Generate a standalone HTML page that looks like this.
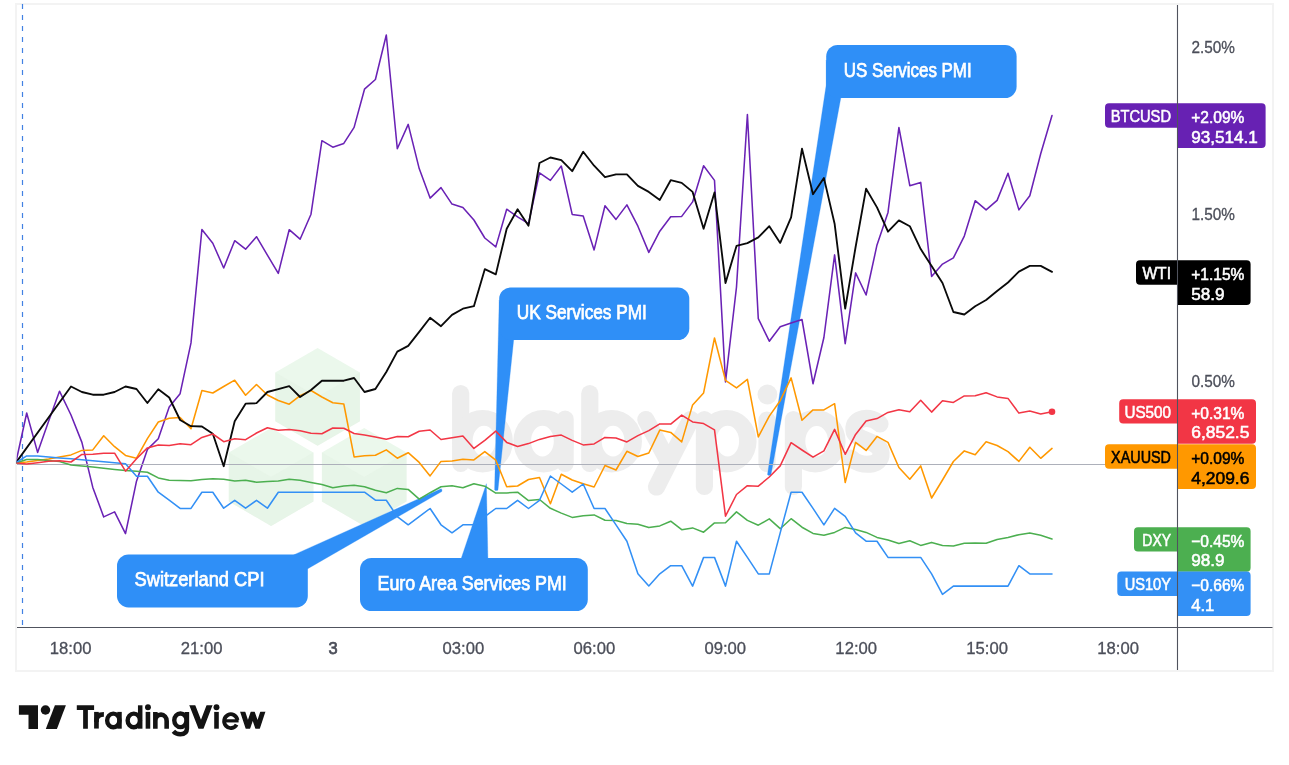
<!DOCTYPE html><html><head><meta charset="utf-8"><title>chart</title><style>html,body{margin:0;padding:0;background:#fff;}body{width:1289px;height:765px;overflow:hidden;font-family:"Liberation Sans",sans-serif;}svg{display:block;will-change:transform}</style></head><body>
<svg width="1289" height="765" viewBox="0 0 1289 765">
<rect x="0" y="0" width="1289" height="765" fill="#ffffff"/>
<rect x="16" y="4" width="1257" height="667" fill="#ffffff" stroke="#f3f3f3" stroke-width="2"/>
<polygon points="317.6,347.9 359.9,372.4 359.9,421.2 317.6,445.7 275.3,421.2 275.3,372.4" fill="#ebf8ec"/>
<polygon points="275.3,372.4 317.6,396.8 359.9,372.4 359.9,421.2 317.6,445.7 275.3,421.2" fill="#e3f1e3" opacity="0.5"/>
<polygon points="271.1,428.1 313.4,452.6 313.4,501.4 271.1,525.9 228.8,501.4 228.8,452.6" fill="#ebf8ec"/>
<polygon points="228.8,452.6 271.1,477.0 313.4,452.6 313.4,501.4 271.1,525.9 228.8,501.4" fill="#e3f1e3" opacity="0.5"/>
<polygon points="364.2,428.1 406.5,452.6 406.5,501.4 364.2,525.9 321.9,501.4 321.9,452.6" fill="#ebf8ec"/>
<polygon points="321.9,452.6 364.2,477.0 406.5,452.6 406.5,501.4 364.2,525.9 321.9,501.4" fill="#e3f1e3" opacity="0.5"/>
<g fill="none" stroke="#ededed" stroke-width="17.2" stroke-linecap="round" stroke-linejoin="round">
<path d="M460.7 393.5V463.5"/>
<path d="M565.1 419V463.5"/>
<path d="M589.8 393.5V463.5"/>
<path d="M645.8 419.5L668.5 462M690.8 419.5L656.5 487"/>
<path d="M704.4 419.5V486.5"/>
<path d="M767 420V463.5"/>
<path d="M793.4 419.5V486.5"/>
<path d="M880 424 C 871 415, 853 417, 854 430 C 855 442, 880 439, 881 453 C 882 467, 860 467, 851 458"/>
</g>
<path d="M452.3 441.2A30.3 31.2 0 1 0 512.9 441.2A30.3 31.2 0 1 0 452.3 441.2ZM472.6 441.2A11.4 15.3 0 1 0 495.4 441.2A11.4 15.3 0 1 0 472.6 441.2Z" fill="#ededed" fill-rule="evenodd"/>
<path d="M513.3000000000001 441.2A30.3 31.2 0 1 0 573.9 441.2A30.3 31.2 0 1 0 513.3000000000001 441.2ZM531.0 441.2A11.4 15.3 0 1 0 553.8 441.2A11.4 15.3 0 1 0 531.0 441.2Z" fill="#ededed" fill-rule="evenodd"/>
<path d="M581.4000000000001 441.2A30.3 31.2 0 1 0 642.0 441.2A30.3 31.2 0 1 0 581.4000000000001 441.2ZM601.7 441.2A11.4 15.3 0 1 0 624.5 441.2A11.4 15.3 0 1 0 601.7 441.2Z" fill="#ededed" fill-rule="evenodd"/>
<path d="M696.0 441.2A30.3 31.2 0 1 0 756.5999999999999 441.2A30.3 31.2 0 1 0 696.0 441.2ZM716.3000000000001 441.2A11.4 15.3 0 1 0 739.1 441.2A11.4 15.3 0 1 0 716.3000000000001 441.2Z" fill="#ededed" fill-rule="evenodd"/>
<path d="M785.0 441.2A30.3 31.2 0 1 0 845.5999999999999 441.2A30.3 31.2 0 1 0 785.0 441.2ZM805.3000000000001 441.2A11.4 15.3 0 1 0 828.1 441.2A11.4 15.3 0 1 0 805.3000000000001 441.2Z" fill="#ededed" fill-rule="evenodd"/>
<circle cx="767.4" cy="394.5" r="9.9" fill="#ededed"/>
<polygon points="826.2,60.0 826.2,85.0 767.5,474.5 768.1,475.3 770.4,475.3 771.0,474.5 840.8,98.0" fill="#2f8ff7" stroke="#2f8ff7" stroke-width="0.3" stroke-linejoin="round"/>
<rect x="826.2" y="45" width="190.4" height="53" rx="11.5" ry="11.5" fill="#2f8ff7"/>
<text x="843.7" y="77" font-family="Liberation Sans, sans-serif" font-size="20.2" fill="#ffffff" stroke="#ffffff" stroke-width="0.75" textLength="128" lengthAdjust="spacingAndGlyphs">US Services PMI</text>
<polygon points="499.2,300.0 494.6,489.4 495.1,490.4 497.5,490.4 498.0,489.4 513.7,339.8" fill="#2f8ff7" stroke="#2f8ff7" stroke-width="0.3" stroke-linejoin="round"/>
<rect x="499.2" y="287.5" width="190.1" height="52.5" rx="11.5" ry="11.5" fill="#2f8ff7"/>
<text x="516.7" y="318.7" font-family="Liberation Sans, sans-serif" font-size="20.2" fill="#ffffff" stroke="#ffffff" stroke-width="0.75" textLength="130.2" lengthAdjust="spacingAndGlyphs">UK Services PMI</text>
<polygon points="293.6,554.9 441.2,488.7 442.0,489.9 441.8,491.5 307.8,568.7 285.0,570.0" fill="#2f8ff7" stroke="#2f8ff7" stroke-width="0.3" stroke-linejoin="round"/>
<rect x="117" y="554.4" width="190.8" height="53" rx="11.5" ry="11.5" fill="#2f8ff7"/>
<text x="134.5" y="585.7" font-family="Liberation Sans, sans-serif" font-size="20.2" fill="#ffffff" stroke="#ffffff" stroke-width="0.75" textLength="130" lengthAdjust="spacingAndGlyphs">Switzerland CPI</text>
<polygon points="486.4,483.7 461.2,558.5 487.9,558.5" fill="#2f8ff7" stroke="#2f8ff7" stroke-width="0.3" stroke-linejoin="round"/>
<rect x="360" y="557.9" width="227.8" height="53.2" rx="11.5" ry="11.5" fill="#2f8ff7"/>
<text x="377.5" y="589.9" font-family="Liberation Sans, sans-serif" font-size="20.2" fill="#ffffff" stroke="#ffffff" stroke-width="0.75" textLength="189.3" lengthAdjust="spacingAndGlyphs">Euro Area Services PMI</text>
<line x1="22.5" y1="4" x2="22.5" y2="627" stroke="#4281e3" stroke-width="1.2" stroke-dasharray="5 6"/>
<clipPath id="pane"><rect x="16.6" y="5" width="1161" height="622"/></clipPath><g clip-path="url(#pane)">
<polyline points="15.8,462.9 26.7,413.0 37.6,452.4 48.6,421.2 59.5,391.2 71.0,415.0 81.9,442.4 92.8,487.4 103.7,516.9 114.6,511.9 125.5,533.6 136.5,481.2 147.4,449.4 158.3,438.7 169.2,407.0 180.1,393.7 191.0,342.9 201.9,229.5 212.8,243.2 223.7,268.0 234.7,240.7 245.6,249.2 256.5,236.7 267.4,255.1 278.3,273.4 289.2,229.7 300.1,239.2 311.0,214.2 321.9,140.7 332.8,147.2 343.8,143.4 354.1,127.4 364.5,89.2 375.4,79.5 386.3,35.0 397.3,148.7 408.2,124.4 419.2,168.6 430.1,198.1 441.0,187.6 452.0,204.1 462.9,207.4 473.9,220.0 484.8,238.0 495.8,246.9 506.7,209.2 517.6,216.9 528.5,223.7 539.5,172.9 550.4,180.4 561.3,166.0 572.2,214.4 583.2,215.9 594.1,249.9 605.0,205.7 616.0,219.4 626.9,204.9 637.9,226.2 648.8,252.4 659.8,231.2 670.7,216.7 681.7,216.4 692.6,201.9 703.6,165.7 714.5,180.4 725.5,381.9 736.5,287.0 747.4,114.5 758.3,318.7 769.3,341.2 780.2,326.7 791.1,323.0 802.0,319.5 813.0,383.7 823.9,337.5 834.6,254.9 845.2,343.7 855.6,272.9 866.1,295.0 877.0,244.9 888.0,212.4 898.9,127.5 909.8,185.7 920.7,182.4 931.6,276.4 942.5,264.1 953.4,257.9 964.3,236.1 975.2,200.7 986.1,209.9 997.1,200.4 1008.0,173.2 1018.9,209.9 1029.8,195.7 1040.7,153.7 1052.0,115.5" fill="none" stroke="#6a22b5" stroke-width="1.55" stroke-linejoin="round" stroke-linecap="round"/>
<line x1="17" y1="464.5" x2="1177" y2="464.5" stroke="#adb0ba" stroke-width="1.05"/>
<polyline points="15.8,462.9 26.7,461.9 37.6,460.4 48.6,458.9 59.5,456.9 71.0,454.9 81.9,450.4 92.8,449.9 103.7,435.7 114.6,446.7 125.5,455.4 136.5,458.2 147.4,438.7 158.3,422.0 169.2,418.2 180.1,417.5 191.0,428.7 201.9,390.5 212.8,393.0 223.7,386.5 234.7,380.2 245.6,395.2 256.5,384.5 267.4,395.0 278.3,400.5 289.2,404.2 300.1,395.7 311.0,390.5 321.9,397.0 332.8,402.7 343.8,404.0 354.1,456.9 364.5,455.7 375.4,455.2 386.3,449.9 397.3,458.2 408.2,452.7 419.2,462.4 430.1,475.9 441.0,461.4 452.0,460.9 462.9,459.2 473.9,459.9 484.8,451.6 495.8,460.2 506.7,486.7 517.6,486.0 528.5,479.5 539.5,477.5 550.4,503.7 561.3,474.2 572.2,480.0 583.2,483.7 594.1,487.0 605.0,465.5 616.0,470.0 626.9,451.3 637.9,456.5 648.8,453.0 659.8,430.1 670.7,432.4 681.7,441.9 692.6,404.9 703.6,392.9 714.5,338.0 725.5,380.4 736.5,387.9 747.4,379.4 758.3,436.9 769.3,416.1 780.2,400.7 791.1,377.9 802.0,420.2 813.0,409.9 823.9,409.9 834.6,403.7 845.2,482.5 855.6,442.4 866.1,450.4 877.0,436.4 888.0,442.4 898.9,467.5 909.8,479.2 920.7,465.9 931.6,498.0 942.5,480.0 953.4,461.5 964.3,450.9 975.2,454.8 986.1,441.8 997.1,445.5 1008.0,451.7 1018.9,461.4 1029.8,447.2 1040.7,458.3 1052.0,448.4" fill="none" stroke="#ff9800" stroke-width="1.55" stroke-linejoin="round" stroke-linecap="round"/>
<polyline points="15.8,462.9 26.7,459.4 37.6,459.4 48.6,460.4 59.5,461.4 71.0,464.9 81.9,465.9 92.8,466.9 103.7,468.2 114.6,469.4 125.5,470.4 136.5,471.2 147.4,472.2 158.3,477.9 169.2,480.2 180.1,480.4 191.0,480.7 201.9,479.4 212.8,478.7 223.7,479.2 234.7,480.9 245.6,480.2 256.5,482.2 267.4,481.4 278.3,480.9 289.2,479.2 300.1,480.2 311.0,482.4 321.9,484.4 332.8,487.7 343.8,485.9 354.1,485.2 364.5,486.7 375.4,490.2 386.3,492.7 397.3,488.4 408.2,489.4 419.2,499.2 430.1,492.7 441.0,486.8 452.0,485.8 462.9,487.8 473.9,483.8 484.8,486.2 495.8,493.1 506.7,492.9 517.6,492.2 528.5,500.6 539.5,499.5 550.4,508.3 561.3,513.1 572.2,517.4 583.2,515.7 594.1,514.9 605.0,520.3 616.0,520.4 626.9,523.6 637.9,524.3 648.8,527.6 659.8,525.9 670.7,521.2 681.7,529.7 692.6,527.9 703.6,532.2 714.5,522.9 725.5,522.7 736.5,511.9 747.4,520.4 758.3,525.2 769.3,518.9 780.2,528.7 791.1,518.7 802.0,527.2 813.0,533.4 823.9,535.2 834.6,532.4 845.2,527.4 855.6,529.4 866.1,532.4 877.0,537.4 888.0,539.9 898.9,543.4 909.8,540.7 920.7,545.4 931.6,542.4 942.5,545.4 953.4,545.9 964.3,543.2 975.2,542.9 986.1,543.2 997.1,539.4 1008.0,537.4 1018.9,534.7 1029.8,532.9 1040.7,535.2 1052.0,538.9" fill="none" stroke="#4caf50" stroke-width="1.55" stroke-linejoin="round" stroke-linecap="round"/>
<polyline points="15.8,462.9 71.0,386.5 81.9,392.0 92.8,394.7 103.7,394.7 114.6,392.0 125.5,386.5 136.5,389.0 147.4,403.0 158.3,389.2 169.2,397.5 180.1,420.0 191.0,426.2 201.9,426.5 212.8,433.7 223.7,466.2 234.7,421.2 245.6,403.7 256.5,403.2 267.4,392.0 278.3,389.2 289.2,386.2 300.1,397.0 311.0,390.0 321.9,380.7 332.8,380.7 343.8,380.7 354.1,378.0 364.5,392.0 375.4,389.0 386.3,372.0 397.3,351.6 408.2,345.9 419.2,331.9 430.1,317.7 441.0,326.2 452.0,314.9 462.9,308.7 473.9,306.2 484.8,269.2 495.8,274.4 506.7,228.7 517.6,209.2 528.5,225.7 539.5,163.0 550.4,157.5 561.3,160.2 572.2,171.2 583.2,151.7 594.1,165.7 605.0,177.2 616.0,174.4 626.9,174.4 637.9,185.9 648.8,191.9 659.8,199.9 670.7,180.2 681.7,182.9 692.6,191.9 703.6,228.7 714.5,192.4 725.5,283.1 736.5,245.9 747.4,243.1 758.3,237.4 769.3,226.2 780.2,242.9 791.1,217.4 802.0,148.7 813.0,194.2 823.9,177.9 834.6,223.7 845.2,308.7 855.6,247.0 866.1,188.7 877.0,207.4 888.0,231.7 898.9,220.4 909.8,226.2 920.7,249.1 931.6,266.1 942.5,283.0 953.4,312.0 964.3,314.5 975.2,306.2 986.1,300.0 997.1,291.0 1008.0,282.5 1018.9,271.6 1029.8,265.9 1040.7,265.9 1052.0,271.9" fill="none" stroke="#0a0a0a" stroke-width="1.85" stroke-linejoin="round" stroke-linecap="round"/>
<polyline points="15.8,462.9 26.7,455.9 37.6,455.9 48.6,456.9 59.5,457.9 71.0,458.8 81.9,459.8 92.8,460.8 103.7,461.8 114.6,462.7 125.5,463.7 136.5,476.2 147.4,476.2 158.3,492.2 169.2,500.2 180.1,508.4 191.0,508.4 201.9,492.2 212.8,492.2 223.7,508.2 234.7,500.4 245.6,508.2 256.5,500.4 267.4,508.2 278.3,492.2 289.2,492.2 300.1,492.2 311.0,492.2 321.9,492.2 332.8,492.2 343.8,492.2 354.1,492.2 364.5,492.2 375.4,500.2 386.3,500.2 397.3,516.6 408.2,524.8 419.2,516.6 430.1,508.5 441.0,524.8 452.0,532.8 462.9,524.8 473.9,524.8 484.8,516.6 495.8,508.5 506.7,508.5 517.6,500.3 528.5,508.5 539.5,500.3 550.4,476.0 561.3,484.0 572.2,492.2 583.2,484.0 594.1,508.5 605.0,508.5 616.0,524.9 626.9,541.2 637.9,573.8 648.8,585.9 659.8,573.8 670.7,565.7 681.7,565.7 692.6,586.1 703.6,557.4 714.5,557.4 725.5,586.1 736.5,541.2 747.4,557.4 758.3,573.9 769.3,573.9 780.2,532.9 791.1,492.2 802.0,492.2 813.0,508.4 823.9,524.9 834.6,508.4 845.2,516.4 855.6,532.9 866.1,541.2 877.0,541.2 888.0,557.4 898.9,557.4 909.8,557.4 920.7,557.4 931.6,573.9 942.5,594.4 953.4,586.1 964.3,586.1 975.2,586.1 986.1,586.1 997.1,586.1 1008.0,586.1 1018.9,565.7 1029.8,573.9 1040.7,573.9 1052.0,573.9" fill="none" stroke="#3390f5" stroke-width="1.55" stroke-linejoin="round" stroke-linecap="round"/>
<polyline points="15.8,462.9 26.7,464.0 37.6,462.7 48.6,461.2 59.5,460.7 71.0,462.0 81.9,454.4 92.8,454.2 103.7,453.2 114.6,453.2 125.5,471.2 136.5,458.7 147.4,447.9 158.3,444.9 169.2,445.4 180.1,443.7 191.0,444.7 201.9,437.4 212.8,434.0 223.7,441.7 234.7,438.7 245.6,439.7 256.5,433.0 267.4,427.7 278.3,430.2 289.2,429.5 300.1,430.7 311.0,433.2 321.9,433.7 332.8,428.0 343.8,428.2 354.1,433.5 364.5,435.0 375.4,437.0 386.3,439.2 397.3,436.5 408.2,436.7 419.2,431.2 430.1,430.0 441.0,439.5 452.0,437.7 462.9,436.0 473.9,448.4 484.8,440.3 495.8,431.1 506.7,442.4 517.6,446.4 528.5,443.6 539.5,439.4 550.4,436.6 561.3,435.1 572.2,440.4 583.2,444.9 594.1,443.9 605.0,437.4 616.0,438.1 626.9,441.9 637.9,435.6 648.8,430.6 659.8,423.9 670.7,424.1 681.7,415.1 692.6,421.9 703.6,423.6 714.5,429.9 725.5,516.2 736.5,494.5 747.4,485.7 758.3,486.2 769.3,477.0 780.2,465.9 791.1,442.7 802.0,450.0 813.0,457.2 823.9,450.9 834.6,429.4 845.2,454.3 855.6,434.4 866.1,421.1 877.0,418.6 888.0,412.4 898.9,409.7 909.8,411.7 920.7,400.2 931.6,412.1 942.5,400.7 953.4,402.4 964.3,395.9 975.2,395.7 986.1,392.7 997.1,396.9 1008.0,398.4 1018.9,413.1 1029.8,411.1 1040.7,413.9 1052.0,411.7" fill="none" stroke="#f23645" stroke-width="1.55" stroke-linejoin="round" stroke-linecap="round"/>
</g>
<circle cx="1052.0" cy="411.7" r="3.3" fill="#f23645"/>
<line x1="17" y1="627.5" x2="1272.5" y2="627.5" stroke="#50535e" stroke-width="1.05"/>
<line x1="1177.5" y1="5" x2="1177.5" y2="670" stroke="#50535e" stroke-width="1.05"/>
<text x="49.8" y="653.6" font-family="Liberation Sans, sans-serif" font-size="16.4" fill="#4b4e59" stroke="#4b4e59" stroke-width="0.3" textLength="41.7" lengthAdjust="spacingAndGlyphs">18:00</text>
<text x="180.73" y="653.6" font-family="Liberation Sans, sans-serif" font-size="16.4" fill="#4b4e59" stroke="#4b4e59" stroke-width="0.3" textLength="41.7" lengthAdjust="spacingAndGlyphs">21:00</text>
<text x="332.96000000000004" y="653.6" font-family="Liberation Sans, sans-serif" font-size="16.4" fill="#4b4e59" stroke="#4b4e59" stroke-width="0.75" text-anchor="middle">3</text>
<text x="442.59" y="653.6" font-family="Liberation Sans, sans-serif" font-size="16.4" fill="#4b4e59" stroke="#4b4e59" stroke-width="0.3" textLength="41.7" lengthAdjust="spacingAndGlyphs">03:00</text>
<text x="573.5200000000001" y="653.6" font-family="Liberation Sans, sans-serif" font-size="16.4" fill="#4b4e59" stroke="#4b4e59" stroke-width="0.3" textLength="41.7" lengthAdjust="spacingAndGlyphs">06:00</text>
<text x="704.4500000000002" y="653.6" font-family="Liberation Sans, sans-serif" font-size="16.4" fill="#4b4e59" stroke="#4b4e59" stroke-width="0.3" textLength="41.7" lengthAdjust="spacingAndGlyphs">09:00</text>
<text x="835.3800000000001" y="653.6" font-family="Liberation Sans, sans-serif" font-size="16.4" fill="#4b4e59" stroke="#4b4e59" stroke-width="0.3" textLength="41.7" lengthAdjust="spacingAndGlyphs">12:00</text>
<text x="966.3100000000001" y="653.6" font-family="Liberation Sans, sans-serif" font-size="16.4" fill="#4b4e59" stroke="#4b4e59" stroke-width="0.3" textLength="41.7" lengthAdjust="spacingAndGlyphs">15:00</text>
<text x="1097.24" y="653.6" font-family="Liberation Sans, sans-serif" font-size="16.4" fill="#4b4e59" stroke="#4b4e59" stroke-width="0.3" textLength="41.7" lengthAdjust="spacingAndGlyphs">18:00</text>
<text x="1191.5" y="53.2" font-family="Liberation Sans, sans-serif" font-size="16.4" fill="#4b4e59" stroke="#4b4e59" stroke-width="0.3" textLength="43.5" lengthAdjust="spacingAndGlyphs">2.50%</text>
<text x="1191.5" y="220.2" font-family="Liberation Sans, sans-serif" font-size="16.4" fill="#4b4e59" stroke="#4b4e59" stroke-width="0.3" textLength="43.5" lengthAdjust="spacingAndGlyphs">1.50%</text>
<text x="1191.5" y="387.2" font-family="Liberation Sans, sans-serif" font-size="16.4" fill="#4b4e59" stroke="#4b4e59" stroke-width="0.3" textLength="43.5" lengthAdjust="spacingAndGlyphs">0.50%</text>
<path d="M1109 103.3H1261.6Q1265.6 103.3 1265.6 107.3V143.9Q1265.6 147.9 1261.6 147.9H1177.5V127.69999999999999H1109Q1105 127.69999999999999 1105 123.69999999999999V107.3Q1105 103.3 1109 103.3Z" fill="#6721b3"/>
<text x="1110.7" y="121.8" font-family="Liberation Sans, sans-serif" font-size="16.6" fill="#ffffff" stroke="#ffffff" stroke-width="0.55" textLength="60.3" lengthAdjust="spacingAndGlyphs">BTCUSD</text>
<text x="1191.2" y="122.8" font-family="Liberation Sans, sans-serif" font-size="16.6" fill="#ffffff" stroke="#ffffff" stroke-width="0.55" textLength="53.2" lengthAdjust="spacingAndGlyphs">+2.09%</text>
<text x="1191.2" y="142.5" font-family="Liberation Sans, sans-serif" font-size="16.6" fill="#ffffff" stroke="#ffffff" stroke-width="0.55" textLength="66.6" lengthAdjust="spacingAndGlyphs">93,514.1</text>
<path d="M1140 260.3H1246.6Q1250.6 260.3 1250.6 264.3V300.90000000000003Q1250.6 304.90000000000003 1246.6 304.90000000000003H1177.5V284.7H1140Q1136 284.7 1136 280.7V264.3Q1136 260.3 1140 260.3Z" fill="#000000"/>
<text x="1142.4" y="278.8" font-family="Liberation Sans, sans-serif" font-size="16.6" fill="#ffffff" stroke="#ffffff" stroke-width="0.55" textLength="28.6" lengthAdjust="spacingAndGlyphs">WTI</text>
<text x="1191.2" y="279.8" font-family="Liberation Sans, sans-serif" font-size="16.6" fill="#ffffff" stroke="#ffffff" stroke-width="0.55" textLength="53.2" lengthAdjust="spacingAndGlyphs">+1.15%</text>
<text x="1191.2" y="299.5" font-family="Liberation Sans, sans-serif" font-size="16.6" fill="#ffffff" stroke="#ffffff" stroke-width="0.55" textLength="33.4" lengthAdjust="spacingAndGlyphs">58.9</text>
<path d="M1123.2 399.2H1252Q1256 399.2 1256 403.2V439.8Q1256 443.8 1252 443.8H1177.5V423.59999999999997H1123.2Q1119.2 423.59999999999997 1119.2 419.59999999999997V403.2Q1119.2 399.2 1123.2 399.2Z" fill="#f23645"/>
<text x="1124.4" y="417.7" font-family="Liberation Sans, sans-serif" font-size="16.6" fill="#ffffff" stroke="#ffffff" stroke-width="0.55" textLength="46.6" lengthAdjust="spacingAndGlyphs">US500</text>
<text x="1191.2" y="418.7" font-family="Liberation Sans, sans-serif" font-size="16.6" fill="#ffffff" stroke="#ffffff" stroke-width="0.55" textLength="53.2" lengthAdjust="spacingAndGlyphs">+0.31%</text>
<text x="1191.2" y="438.4" font-family="Liberation Sans, sans-serif" font-size="16.6" fill="#ffffff" stroke="#ffffff" stroke-width="0.55" textLength="58.2" lengthAdjust="spacingAndGlyphs">6,852.5</text>
<path d="M1109 444.3H1252Q1256 444.3 1256 448.3V484.90000000000003Q1256 488.90000000000003 1252 488.90000000000003H1177.5V468.7H1109Q1105 468.7 1105 464.7V448.3Q1105 444.3 1109 444.3Z" fill="#ff9800"/>
<text x="1111.1" y="462.8" font-family="Liberation Sans, sans-serif" font-size="16.6" fill="#000000" stroke="#000000" stroke-width="0.55" textLength="59.9" lengthAdjust="spacingAndGlyphs">XAUUSD</text>
<text x="1191.2" y="463.8" font-family="Liberation Sans, sans-serif" font-size="16.6" fill="#000000" stroke="#000000" stroke-width="0.55" textLength="53.2" lengthAdjust="spacingAndGlyphs">+0.09%</text>
<text x="1191.2" y="483.5" font-family="Liberation Sans, sans-serif" font-size="16.6" fill="#000000" stroke="#000000" stroke-width="0.55" textLength="58.2" lengthAdjust="spacingAndGlyphs">4,209.6</text>
<path d="M1138 527.2H1246.6Q1250.6 527.2 1250.6 531.2V567.8000000000001Q1250.6 571.8000000000001 1246.6 571.8000000000001H1177.5V551.6H1138Q1134 551.6 1134 547.6V531.2Q1134 527.2 1138 527.2Z" fill="#4caf50"/>
<text x="1142.3" y="545.7" font-family="Liberation Sans, sans-serif" font-size="16.6" fill="#ffffff" stroke="#ffffff" stroke-width="0.55" textLength="28.7" lengthAdjust="spacingAndGlyphs">DXY</text>
<text x="1191.2" y="546.7" font-family="Liberation Sans, sans-serif" font-size="16.6" fill="#ffffff" stroke="#ffffff" stroke-width="0.55" textLength="53.2" lengthAdjust="spacingAndGlyphs">−0.45%</text>
<text x="1191.2" y="566.4000000000001" font-family="Liberation Sans, sans-serif" font-size="16.6" fill="#ffffff" stroke="#ffffff" stroke-width="0.55" textLength="33.4" lengthAdjust="spacingAndGlyphs">98.9</text>
<path d="M1121.3 571.5H1246.6Q1250.6 571.5 1250.6 575.5V612.1Q1250.6 616.1 1246.6 616.1H1177.5V595.9H1121.3Q1117.3 595.9 1117.3 591.9V575.5Q1117.3 571.5 1121.3 571.5Z" fill="#3390f5"/>
<text x="1124.7" y="590.0" font-family="Liberation Sans, sans-serif" font-size="16.6" fill="#ffffff" stroke="#ffffff" stroke-width="0.55" textLength="46.3" lengthAdjust="spacingAndGlyphs">US10Y</text>
<text x="1191.2" y="591.0" font-family="Liberation Sans, sans-serif" font-size="16.6" fill="#ffffff" stroke="#ffffff" stroke-width="0.55" textLength="53.2" lengthAdjust="spacingAndGlyphs">−0.66%</text>
<text x="1191.2" y="610.7" font-family="Liberation Sans, sans-serif" font-size="16.6" fill="#ffffff" stroke="#ffffff" stroke-width="0.55" textLength="23.2" lengthAdjust="spacingAndGlyphs">4.1</text>
<line x1="1177.5" y1="5" x2="1177.5" y2="670" stroke="#50535e" stroke-width="1.05"/>
<g fill="#131313">
<polygon points="18.9,705.3 38,705.3 38,728.9 28.5,728.9 28.5,714.8 18.9,714.8"/>
<circle cx="45.5" cy="710" r="4.75"/>
<polygon points="54.9,705.3 65.9,705.3 56.9,728.9 45.8,728.9"/>
<g stroke="#131313" fill="none" stroke-width="4.4">
<clipPath id="wm"><rect x="70" y="705.3" width="200" height="23.4"/></clipPath>
<clipPath id="wx"><rect x="70" y="711.7" width="200" height="17"/></clipPath>
<path d="M76.8 707.65H94.1M85.5 705.3V728.7" stroke-width="4.75"/>
<path d="M96.45 728.7V720.5Q96.45 714.3 103.9 714.3" stroke-width="4.7" clip-path="url(#wx)"/>
<path d="M96.45 711.9V722" stroke-width="4.7"/>
<ellipse cx="113.3" cy="720.45" rx="6.15" ry="6.8"/>
<path d="M119.5 711.9V728.7" stroke-width="4.5"/>
<ellipse cx="133.8" cy="720.45" rx="6.15" ry="6.8"/>
<path d="M140.2 705.3V728.7" stroke-width="4.5"/>
<path d="M147.95 711.9V728.7" stroke-width="4.6"/>
<path d="M155.35 711.9V728.7M155.35 721A5.65 6.4 0 0 1 166.65 721V728.7" stroke-width="4.6"/>
<ellipse cx="180.4" cy="720.3" rx="6.15" ry="6.8"/>
<path d="M186.9 711.9V728.5Q186.9 734.2 180.3 734.2Q176 734.2 173.4 731.2" stroke-width="4.5"/>
<path d="M191.8 704L201 727.5L210 704" stroke-width="5.6" stroke-linejoin="miter" stroke-miterlimit="10" clip-path="url(#wm)"/>
<path d="M216.5 711.9V728.7" stroke-width="4.6"/>
<path d="M236.6 724.6A6.65 6.95 0 1 1 237.4 720.0" stroke-width="3.9"/><path d="M226 720.85H238.6" stroke-width="3.2"/>
<path d="M242.1 710L247.9 727.6L252.7 713.5L257.6 727.6L263.4 710" stroke-width="4.9" stroke-linejoin="miter" stroke-miterlimit="10" clip-path="url(#wx)"/>
</g>
<circle cx="147.95" cy="707.2" r="2.95"/><circle cx="216.5" cy="707.2" r="2.95"/>
</g>
</svg></body></html>
